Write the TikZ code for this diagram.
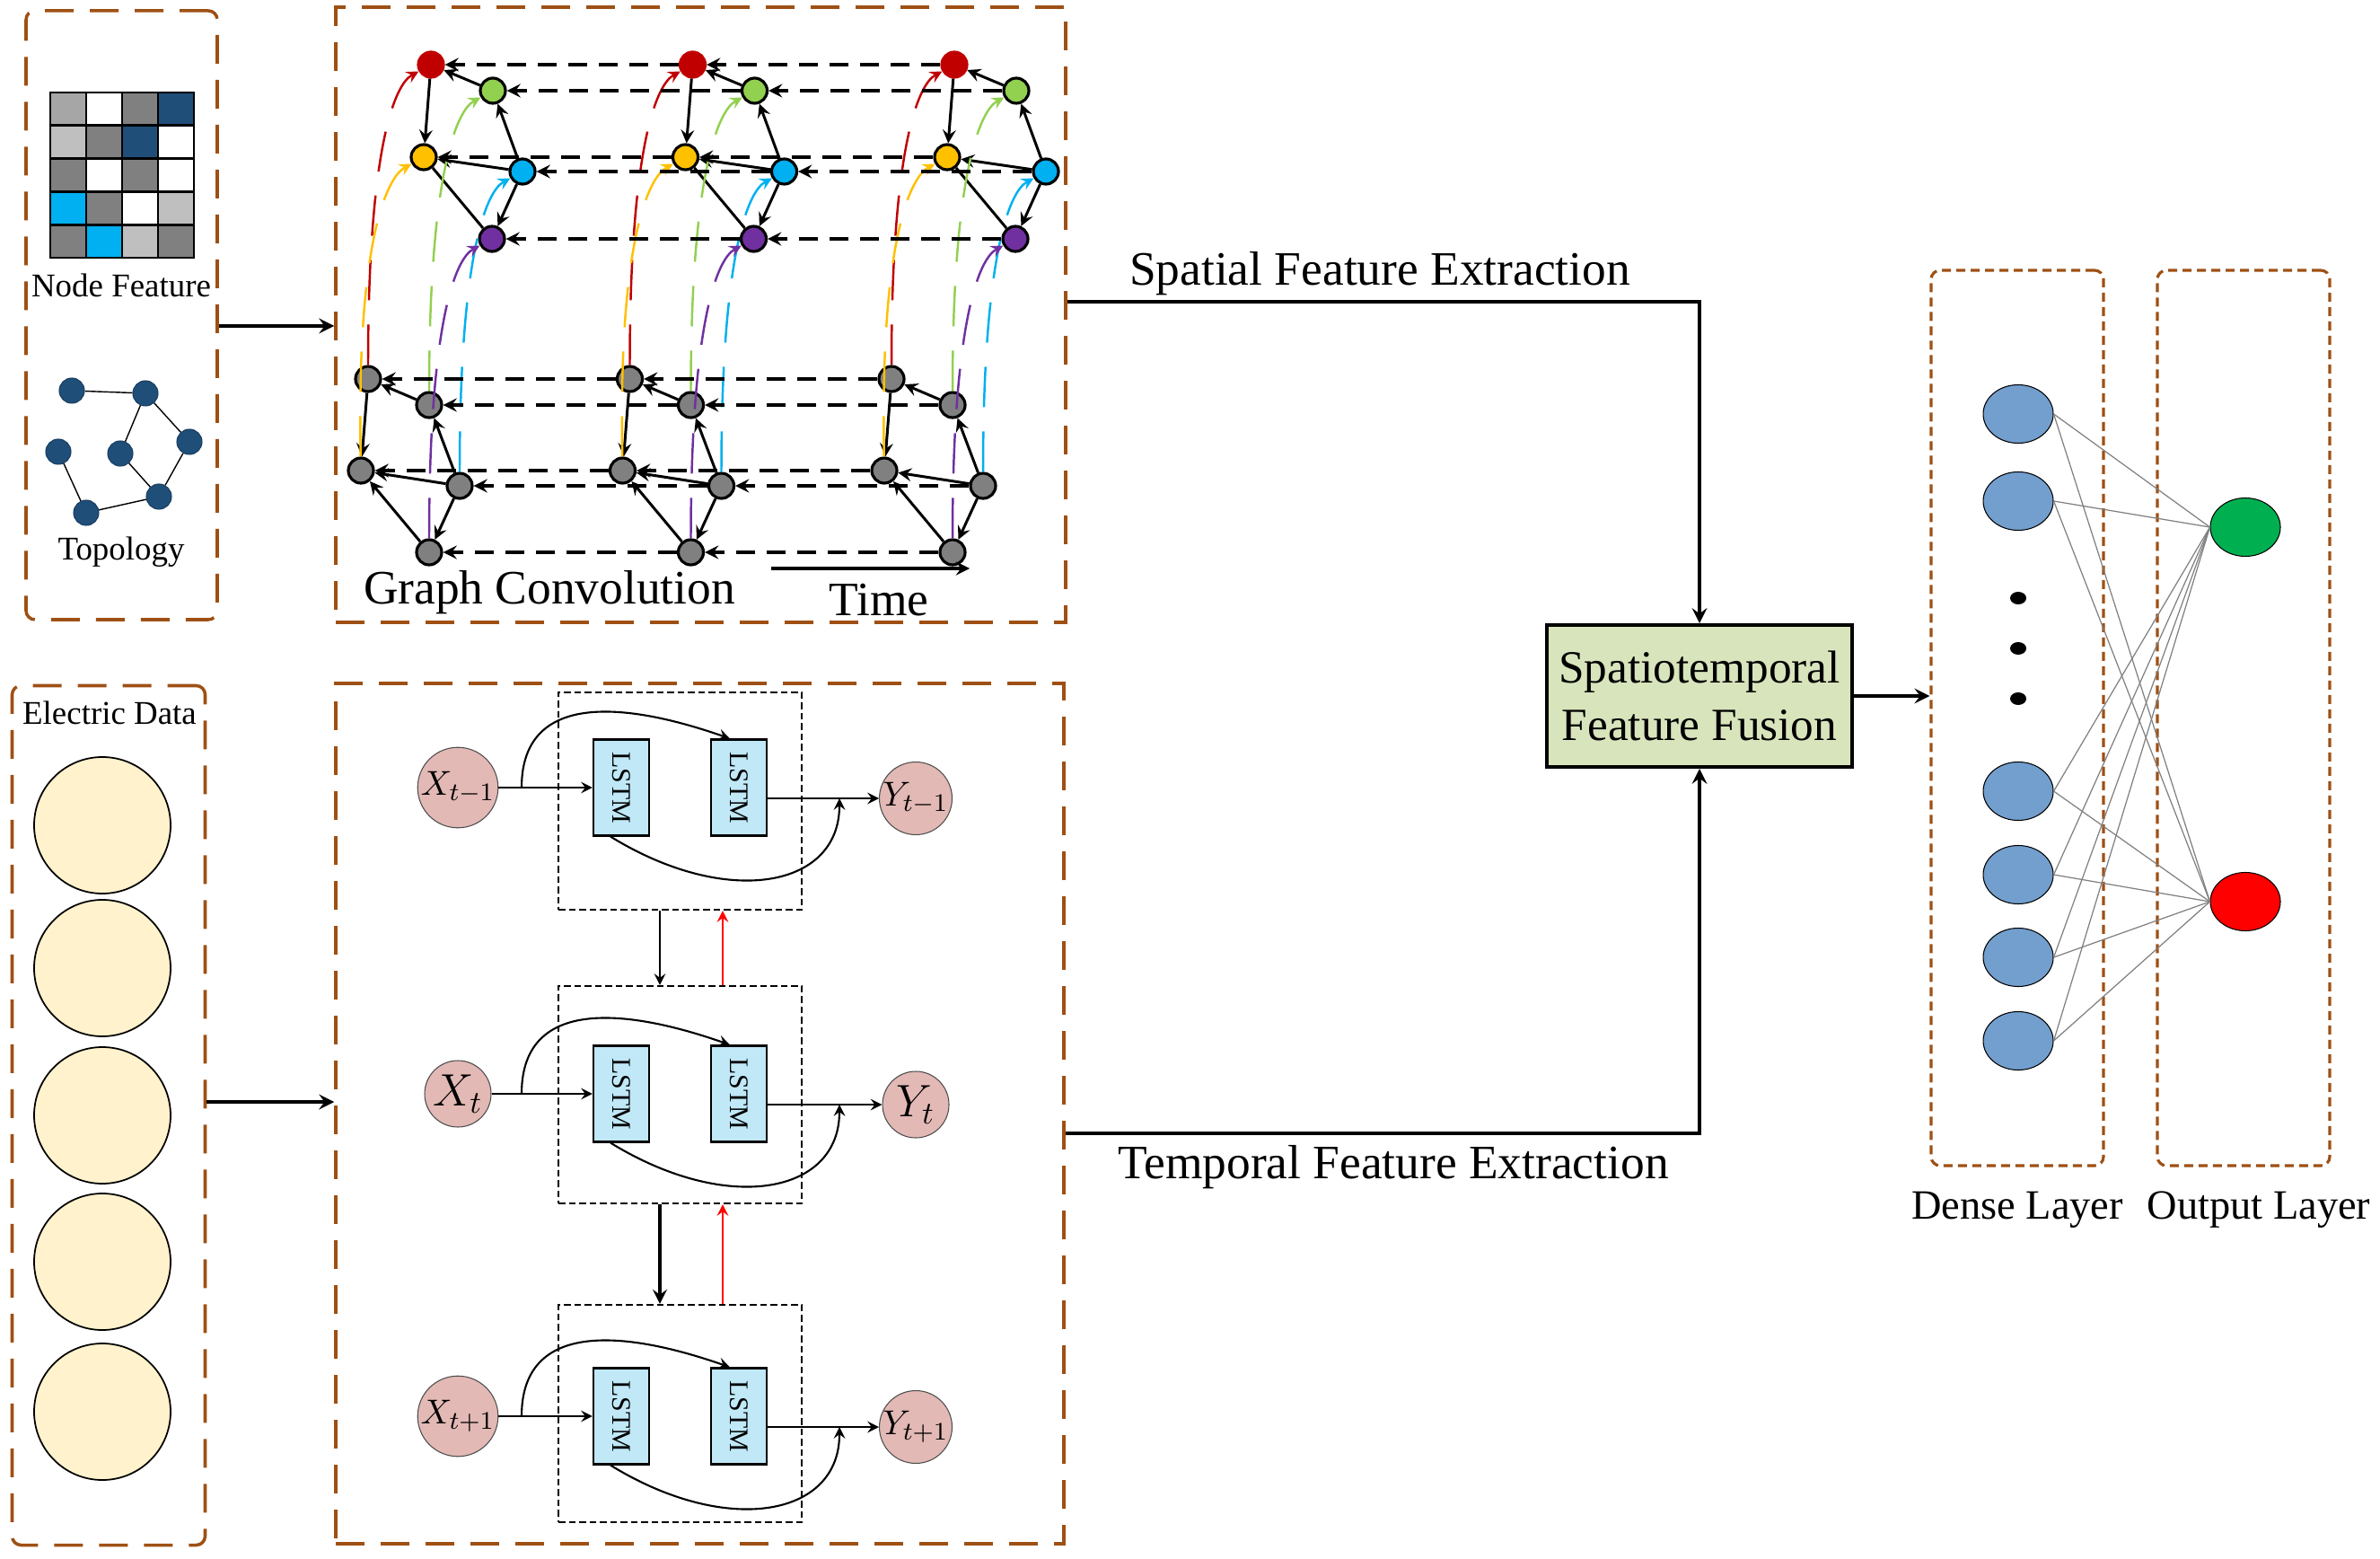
\documentclass[tikz,border=0pt]{standalone}
\usepackage{fontspec}
\setmainfont{Liberation Serif}
\usepackage{graphicx}
\usepackage{amsmath}
\usepackage{tikz}
\usetikzlibrary{shapes.geometric, arrows.meta, positioning, calc}
\definecolor{FrameBrown}{HTML}{9E5014}
\definecolor{CellMid}{HTML}{A6A6A6}
\definecolor{CellGray}{HTML}{808080}
\definecolor{CellLight}{HTML}{BFBFBF}
\definecolor{CellNavy}{HTML}{1F4E79}
\definecolor{CellCyan}{HTML}{00B0F0}
\definecolor{NodeRed}{HTML}{C00000}
\definecolor{NodeGreen}{HTML}{92D050}
\definecolor{NodeYellow}{HTML}{FFC000}
\definecolor{NodeBlue}{HTML}{00B0F0}
\definecolor{NodePurple}{HTML}{7030A0}
\definecolor{NodeGray}{HTML}{808080}
\definecolor{DataYellow}{HTML}{FFF2CC}
\definecolor{LstmBlue}{HTML}{C0E8F7}
\definecolor{InPink}{HTML}{E2B9B5}
\definecolor{FusionGreen}{HTML}{D8E4BC}
\definecolor{DenseBlue}{HTML}{739FCE}
\definecolor{OutGreen}{HTML}{00B050}
\definecolor{OutRed}{HTML}{FF0000}
\tikzset{
  % Frame styles
  framebox/.style={rectangle, draw=FrameBrown, line width=1pt, dash pattern=on 3.2mm off 1.8mm, inner sep=0pt},
  layerbox/.style={rectangle, rounded corners=1mm, draw=FrameBrown, line width=0.9pt, dash pattern=on 1mm off 0.6mm, inner sep=0pt, minimum width=1.92cm, minimum height=9.97cm},
  cellbox/.style={rectangle, draw, line width=0.6pt, dash pattern=on 0.75mm off 0.4mm, minimum width=2.71cm, minimum height=2.42cm, inner sep=0pt},
  fusionbox/.style={rectangle, draw, line width=1.1pt, fill=FusionGreen, minimum width=3.4cm, minimum height=1.58cm, align=center, font=\fontsize{14.6}{18}\selectfont},
  lstmbox/.style={rectangle, draw, line width=0.6pt, fill=LstmBlue, minimum width=0.62cm, minimum height=1.07cm, inner sep=0pt, font=\fontsize{8.5}{8.5}\selectfont},
  % Node styles
  gnode/.style={circle, draw, line width=0.9pt, minimum size=0.28cm, inner sep=0pt},
  topnode/.style={circle, fill=CellNavy, draw=CellNavy!80!black, line width=0.3pt, minimum size=0.28cm, inner sep=0pt},
  datanode/.style={circle, draw, line width=0.5pt, fill=DataYellow, minimum size=1.52cm, inner sep=0pt},
  xnode/.style={circle, draw=black!70, line width=0.3pt, fill=InPink, minimum size=0.74cm, inner sep=0pt},
  densenode/.style={ellipse, draw, line width=0.3pt, fill=DenseBlue, minimum width=0.78cm, minimum height=0.65cm, inner sep=0pt},
  outnode/.style={ellipse, draw, line width=0.3pt, minimum width=0.78cm, minimum height=0.65cm, inner sep=0pt},
  dotnode/.style={ellipse, fill=black, minimum width=0.18cm, minimum height=0.14cm, inner sep=0pt},
  % Text styles
  bigtext/.style={font=\fontsize{15.2}{18}\selectfont, inner sep=1pt},
  midtext/.style={font=\fontsize{13.2}{16}\selectfont, inner sep=1pt},
  smalltext/.style={font=\fontsize{10.5}{12}\selectfont, inner sep=1pt},
  % Arrow styles
  arrow/.style={->, >=stealth, semithick},
  bigarrow/.style={->, >=stealth, line width=1.1pt},
  redarrow/.style={->, >=stealth, semithick, OutRed},
  gedge/.style={->, >=stealth, line width=0.85pt},
  gline/.style={line width=0.85pt},
  timeline/.style={->, >=stealth, line width=0.9pt, dash pattern=on 2.1mm off 1.3mm},
  lift/.style={->, >=stealth, line width=0.7pt, dash pattern=on 4.5mm off 2.7mm},
  link/.style={draw=CellGray, line width=0.35pt}
}

\begin{document}
\begin{tikzpicture}
  \useasboundingbox (0,0) rectangle (26.51,-17.36);

  % Panels
  \node[framebox, rounded corners=1mm, minimum width=2.13cm, minimum height=6.78cm] (panelA) at (1.355,-3.51) {};
  \node[framebox, minimum width=8.13cm, minimum height=6.85cm] (panelB) at (7.805,-3.505) {};
  \node[framebox, rounded corners=1mm, minimum width=2.15cm, minimum height=9.57cm] (panelC) at (1.21,-12.42) {};
  \node[framebox, minimum width=8.11cm, minimum height=9.58cm] (panelD) at (7.795,-12.40) {};
  \node[layerbox] (panelE) at (22.47,-7.995) {};
  \node[layerbox] (panelF) at (24.99,-7.995) {};

  % Node feature matrix
  \foreach \r/\cols in {0/{CellMid,white,CellGray,CellNavy}, 1/{CellLight,CellGray,CellNavy,white}, 2/{CellGray,white,CellGray,white}, 3/{CellCyan,CellGray,white,CellLight}, 4/{CellGray,CellCyan,CellLight,CellGray}}
    \foreach \c [count=\j from 0] in \cols
      \fill[\c] ({0.56+0.40*\j},{-1.03-0.368*\r}) rectangle ++(0.40,-0.368);
  \begin{scope}[shift={(0.56,-2.87)}, line width=0.8pt]
    \foreach \j in {1,2,3} \draw ({0.40*\j},0) -- ({0.40*\j},1.84);
    \foreach \r in {1,2,3,4} \draw (0,{0.368*\r}) -- (1.60,{0.368*\r});
    \draw (0,0) rectangle (1.60,1.84);
  \end{scope}
  \node[smalltext] (featlbl) at (1.35,-3.18) {Node Feature};

  % Topology
  \node[topnode] (tp1) at (0.80,-4.35) {};
  \node[topnode] (tp2) at (1.62,-4.38) {};
  \node[topnode] (tp3) at (0.65,-5.03) {};
  \node[topnode] (tp4) at (1.34,-5.05) {};
  \node[topnode] (tp5) at (2.11,-4.92) {};
  \node[topnode] (tp6) at (1.77,-5.53) {};
  \node[topnode] (tp7) at (0.96,-5.71) {};
  \draw[line width=0.4pt] (tp1) -- (tp2) (tp2) -- (tp4) (tp2) -- (tp5) (tp4) -- (tp6)
    (tp5) -- (tp6) (tp3) -- (tp7) (tp7) -- (tp6);
  \node[smalltext] (topolbl) at (1.35,-6.15) {Topology};

  % Graph convolution over time
  \foreach \k/\dx in {1/0, 2/2.915, 3/5.83} {
    \begin{scope}[xshift=\dx cm]
      \node[gnode, fill=NodeRed, draw=NodeRed] (r\k) at (4.80,-0.72) {};
      \node[gnode, fill=NodeGreen] (gn\k) at (5.49,-1.01) {};
      \node[gnode, fill=NodeYellow] (yw\k) at (4.72,-1.75) {};
      \node[gnode, fill=NodeBlue] (bl\k) at (5.82,-1.91) {};
      \node[gnode, fill=NodePurple] (pp\k) at (5.48,-2.66) {};
      \node[gnode, fill=NodeGray] (a\k) at (4.10,-4.22) {};
      \node[gnode, fill=NodeGray] (b\k) at (4.78,-4.51) {};
      \node[gnode, fill=NodeGray] (c\k) at (4.02,-5.24) {};
      \node[gnode, fill=NodeGray] (d\k) at (5.12,-5.41) {};
      \node[gnode, fill=NodeGray] (e\k) at (4.78,-6.15) {};
    \end{scope}
    \draw[gedge] (gn\k) -- (r\k);
    \draw[gedge] (r\k) -- (yw\k);
    \draw[gedge] (bl\k) -- (yw\k);
    \draw[gedge] (bl\k) -- (gn\k);
    \draw[gedge] (bl\k) -- (pp\k);
    \draw[gline] (pp\k) -- (yw\k);
    \draw[gedge] (b\k) -- (a\k);
    \draw[gedge] (a\k) -- (c\k);
    \draw[gedge] (d\k) -- (c\k);
    \draw[gedge] (d\k) -- (b\k);
    \draw[gedge] (d\k) -- (e\k);
    \draw[gedge] (e\k) -- (c\k);
    \draw[lift, NodeRed] (a\k) .. controls +(0,2.6) and +(-0.4,-0.22) .. (r\k);
    \draw[lift, NodeYellow] (c\k) .. controls +(-0.05,2.6) and +(-0.4,-0.22) .. (yw\k);
    \draw[lift, NodeGreen] (b\k) .. controls +(0,2.6) and +(-0.4,-0.22) .. (gn\k);
    \draw[lift, NodeBlue] (d\k) .. controls +(0,2.6) and +(-0.4,-0.22) .. (bl\k);
    \draw[lift, NodePurple] (e\k) .. controls +(0,2.6) and +(-0.4,-0.22) .. (pp\k);
  }
  \foreach \n in {r,gn,yw,bl,pp,a,b,c,d,e} {
    \draw[timeline] (\n2) -- (\n1);
    \draw[timeline] (\n3) -- (\n2);
  }
  \coordinate (time0) at (8.59,-6.33);
  \coordinate (time1) at (10.80,-6.33);
  \draw[->, >=stealth, line width=0.9pt] (time0) -- (time1);
  \node[bigtext] (gclbl) at (6.12,-6.60) {Graph Convolution};
  \node[bigtext] (timelbl) at (9.79,-6.68) {Time};

  % Electric data
  \node[smalltext] (edlbl) at (1.22,-7.94) {Electric Data};
  \foreach \yy [count=\n] in {9.19,10.78,12.42,14.05,15.72}
    \node[datanode] (ed\n) at (1.14,-\yy) {};

  % LSTM blocks
  \foreach \i/\ly/\by/\sz/\sub in {1/8.77/8.92/11/{t-1}, 2/12.18/12.19/14/t, 3/15.77/15.74/11/{t+1}} {
    \node[cellbox] (blk\i) at (7.575,-\by) {};
    \node[lstmbox] (la\i) at (6.92,-\ly) {\rotatebox{-90}{LSTM}};
    \node[lstmbox] (lb\i) at (8.23,-\ly) {\rotatebox{-90}{LSTM}};
    \node[xnode, font=\fontsize{\sz}{\sz}\selectfont] (x\i) at (5.10,-\ly) {$X_{\sub}$};
    \node[xnode, font=\fontsize{\sz}{\sz}\selectfont] (y\i) at (10.20,-\ly-0.12) {$Y_{\sub}$};
    \coordinate (s\i) at (5.81,-\ly);
    \coordinate (m\i) at (9.35,-\ly-0.12);
    \draw[arrow] (x\i) -- (la\i);
    \draw[arrow] (s\i) .. controls +(0,1.15) and +(-1.0,0.35) .. ([xshift=-0.1cm]lb\i.north);
    \draw[arrow] (lb\i.east |- y\i) -- (y\i);
    \draw[arrow] ([xshift=-0.12cm]la\i.south) .. controls +(1.3,-0.8) and +(0,-1.0) .. (m\i);
  }
  \draw[arrow] ([xshift=-0.225cm]blk1.south) -- ([xshift=-0.225cm]blk2.north);
  \draw[redarrow] ([xshift=0.475cm]blk2.north) -- ([xshift=0.475cm]blk1.south);
  \draw[->, >=stealth, line width=1pt] ([xshift=-0.225cm]blk2.south) -- ([xshift=-0.225cm]blk3.north);
  \draw[redarrow] ([xshift=0.475cm]blk3.north) -- ([xshift=0.475cm]blk2.south);

  % Fusion
  \node[fusionbox] (fusion) at (18.93,-7.75) {Spatiotemporal\\Feature Fusion};
  \draw[bigarrow] (panelA.east |- 0,-3.63) -- (panelB.west |- 0,-3.63);
  \draw[bigarrow] (panelC.east |- 0,-12.27) -- (panelD.west |- 0,-12.27);
  \draw[bigarrow] (panelB.east |- 0,-3.36) -| (fusion.north);
  \draw[bigarrow] (panelD.east |- 0,-12.62) -| (fusion.south);
  \draw[bigarrow] (fusion.east) -- (panelE.west |- fusion.east);
  \node[bigtext] (spatlbl) at (15.37,-3.05) {Spatial Feature Extraction};
  \node[bigtext] (templbl) at (15.52,-13.00) {Temporal Feature Extraction};

  % Dense and output layers
  \foreach \yy [count=\n] in {4.61,5.58,8.81,9.74,10.66,11.59}
    \node[densenode] (h\n) at (22.48,-\yy) {};
  \node[dotnode] (v1) at (22.48,-6.66) {};
  \node[dotnode] (v2) at (22.48,-7.22) {};
  \node[dotnode] (v3) at (22.48,-7.78) {};
  \node[outnode, fill=OutGreen] (o1) at (25.01,-5.87) {};
  \node[outnode, fill=OutRed] (o2) at (25.01,-10.04) {};
  \foreach \n in {1,...,6} {
    \draw[link] (h\n.east) -- (o1.west);
    \draw[link] (h\n.east) -- (o2.west);
  }
  \node[midtext] (denselbl) at (22.47,-13.47) {Dense Layer};
  \node[midtext] (outlbl) at (25.16,-13.47) {Output Layer};
\end{tikzpicture}
\end{document}
